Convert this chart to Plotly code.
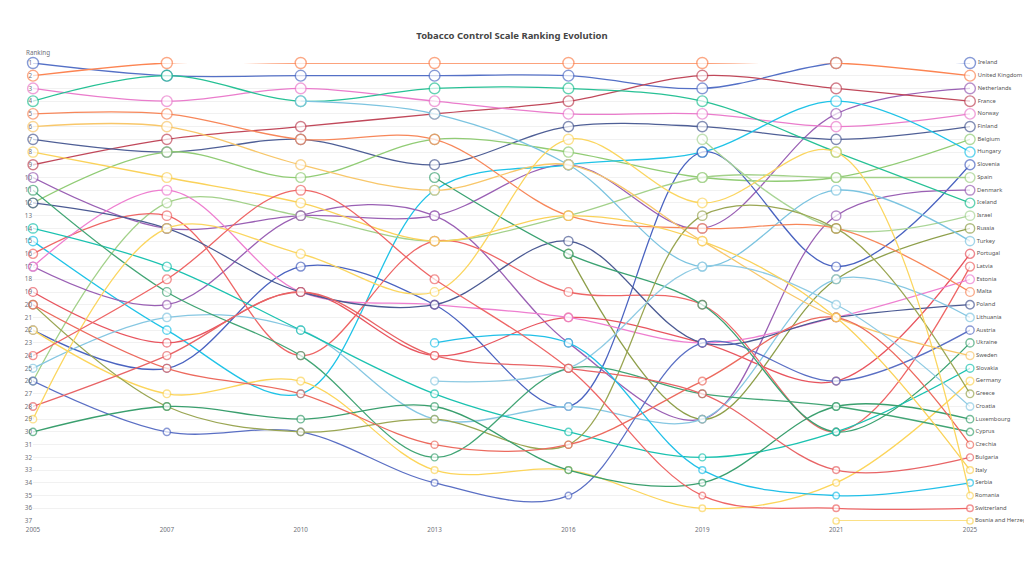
import plotly.graph_objects as go

years = ["2005", "2007", "2010", "2013", "2016", "2019", "2021", "2025"]

countries = [
    "Ireland", "United Kingdom", "Netherlands", "France", "Norway", "Finland",
    "Belgium", "Hungary", "Slovenia", "Spain", "Denmark", "Iceland", "Israel",
    "Russia", "Turkey", "Portugal", "Latvia", "Estonia", "Malta", "Poland",
    "Lithuania", "Austria", "Ukraine", "Sweden", "Slovakia", "Germany", "Greece",
    "Croatia", "Luxembourg", "Cyprus", "Czechia", "Bulgaria", "Italy", "Serbia",
    "Romania", "Switzerland", "Bosnia and Herzegovina",
]

# ranks per edition, same order as countries (None = not in that edition)
rank_2005 = [1, 2, 10, 9, 3, 7, 12, 15, 22, 26, 17, 4, None, None, None, 19, 16, 17, 5, 12,
             25, 26, None, 6, 14, 22, 20, None, 30, 11, 20, 28, 8, None, 29, 24, None]
rank_2007 = [2, 1, 14, 7, 4, 8, 8, 22, 25, 12, 20, 2, None, None, None, 23, 13, 11, 5, 14,
             21, 30, None, 6, 17, 27, 28, None, 28, 19, 25, 24, 10, None, 14, 18, None]
rank_2010 = [2, 1, 13, 6, 3, 7, 10, 27, 17, 13, 13, 4, None, None, 4, 19, 24, 19, 7, 19,
             22, 30, None, 9, 22, 26, 30, None, 29, 24, 27, 19, 12, None, 16, 11, None]
rank_2013 = [2, 1, 13, 5, 4, 9, 7, 11, 20, 15, 13, 3, None, None, 5, 24, 15, 20, 7, 20,
             29, 34, 10, 11, 27, 33, 29, 26, 28, 32, 31, 24, 15, 23, 19, 18, None]
rank_2016 = [2, 1, 9, 4, 5, 6, 8, 9, 28, 13, 23, 3, None, 16, 9, 21, 19, 21, 13, 15,
             28, 35, 16, 9, 30, 33, 31, 25, 33, 25, 31, 25, 13, 23, 7, 25, None]
rank_2019 = [3, 1, 14, 2, 5, 6, 10, 8, 8, 10, 29, 4, 7, 29, 17, 23, 20, 23, 14, 23,
             29, 23, 20, 15, 32, 36, 13, 17, 34, 27, 26, 27, 15, 33, 12, 35, None]
rank_2021 = [1, 1, 5, 3, 6, 7, 10, 4, 17, 10, 13, 8, 14, 18, 11, 26, 30, 21, 14, 21,
             18, 26, 30, 21, 30, 34, 14, 20, 28, 28, 21, 33, 21, 35, 8, 36, 37]
rank_2025 = list(range(1, 38))

colors = [
    "#5470c6", "#fc8452", "#9a60b4", "#c0485a", "#ea7ccc", "#4f5f96",
    "#91cc75", "#1fc3e7", "#4a63c0", "#a3d18a", "#9a60b4", "#27c195", "#a9d596",
    "#8e9f4a", "#7cc4e0", "#e8555f", "#ee6666", "#ee7fd0", "#f7875a", "#4b5a93",
    "#86c7e2", "#5a6fc4", "#3ba272", "#f8c76a", "#1bc2b0", "#fcd55b", "#9aa653",
    "#8fcbe3", "#3a9f6e", "#42a575", "#ec6a5e", "#e86466", "#fad25a", "#22c0e8",
    "#fbd660", "#ee6666", "#fad65c",
]

editions = [rank_2005, rank_2007, rank_2010, rank_2013, rank_2016, rank_2019, rank_2021, rank_2025]

fig = go.Figure()
for i, name in enumerate(countries):
    xs = [j for j, col in enumerate(editions) if col[i] is not None]
    ys = [editions[j][i] for j in xs]
    sizes = [11 - (r - 1) * 0.13 for r in ys]
    labels = [""] * (len(xs) - 1) + [name]
    fig.add_trace(go.Scatter(
        x=xs, y=ys, mode="lines+markers+text", text=labels,
        textposition="middle right",
        textfont=dict(size=5.8, color="#555", family="Noto Sans"),
        line=dict(color=colors[i], width=1.3, shape="spline", smoothing=1),
        marker=dict(size=sizes, color="white", line=dict(color=colors[i], width=1.4)),
        cliponaxis=False, showlegend=False, hoverinfo="skip",
    ))

fig.update_xaxes(
    range=[0, 7], tickmode="array", tickvals=list(range(len(years))), ticktext=years,
    showgrid=False, zeroline=False, showline=False, automargin=False,
    tickfont=dict(size=6.3, color="#6e7079"), ticklen=0, ticklabelstandoff=4,
)
fig.update_yaxes(
    range=[37, 1], tickmode="array", tickvals=list(range(1, 38)),
    showgrid=True, gridcolor="#f1f1f1", gridwidth=1, zeroline=False, showline=False,
    automargin=False, tickfont=dict(size=6.3, color="#6e7079"), ticklen=0,
)
fig.update_layout(
    width=1024, height=576,
    margin=dict(l=33, r=54, t=63, b=55),
    paper_bgcolor="white", plot_bgcolor="white",
    font=dict(family="Noto Sans"),
    title=dict(text="<b>Tobacco Control Scale Ranking Evolution</b>", x=0.5, xanchor="center",
               y=1 - 36 / 576, yanchor="middle", yref="container",
               font=dict(size=9.5, color="#464646")),
    annotations=[dict(text="Ranking", xref="paper", yref="paper", x=-0.01, y=1.022,
                      xanchor="left", yanchor="middle", showarrow=False,
                      font=dict(size=6.3, color="#6e7079"))],
)

fig.write_html("out.html", config={"displayModeBar": False},
               post_script="document.body.style.margin='0';")
